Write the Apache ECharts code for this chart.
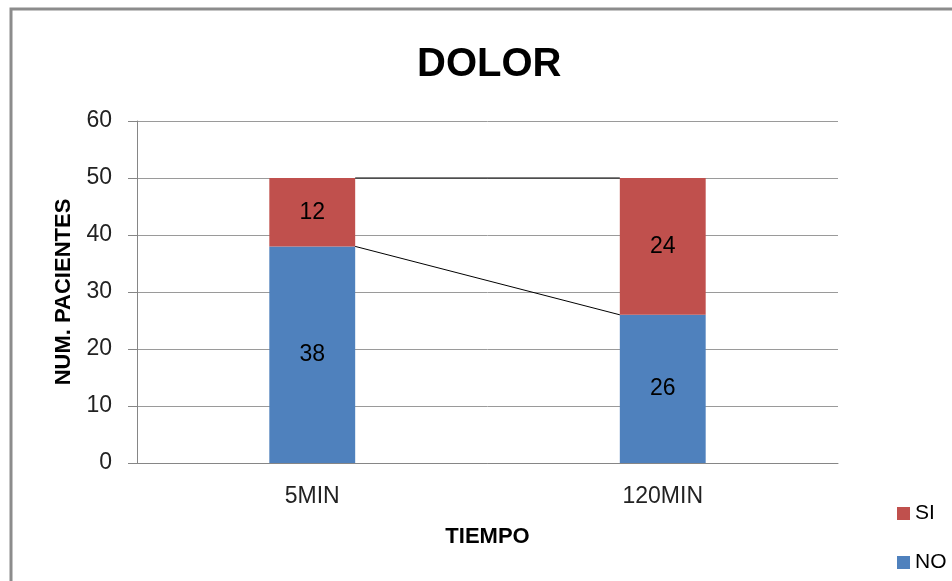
<!DOCTYPE html>
<html>
<head>
<meta charset="utf-8">
<script src="https://cdn.jsdelivr.net/npm/echarts@6/dist/echarts.min.js"></script>
<style>
html,body{margin:0;padding:0;background:#fff;}
#chart{width:952px;height:581px;}
</style>
</head>
<body>
<div id="chart"></div>
<script>
var categories = ['5MIN', '120MIN'];
var noValues = [38, 26];
var siValues = [12, 24];
var yTicks = [0, 10, 20, 30, 40, 50, 60];

var FONT = 'Liberation Sans';
var BAR_FRAC = 0.245;

// series lines connecting stacked segment tops between adjacent bars
function cumulative(a, b) { return a.map(function (v, i) { return v + (b ? b[i] : 0); }); }
var noTop = cumulative(noValues);
var siTop = cumulative(noValues, siValues);
var seriesLineData = [];
[noTop, siTop].forEach(function (tops) {
  for (var i = 0; i < tops.length - 1; i++) seriesLineData.push([i, tops[i], tops[i + 1]]);
});

var chart = echarts.init(document.getElementById('chart'));
chart.setOption({
  animation: false,
  backgroundColor: '#fff',
  graphic: [{
    type: 'rect', silent: true, z: 100,
    shape: { x: 11, y: 9, width: 1200, height: 1000 },
    style: { fill: 'none', stroke: '#8c8c8c', lineWidth: 3 }
  }],
  title: {
    text: 'DOLOR', left: 412, top: 40,
    textStyle: { fontFamily: FONT, fontSize: 40, fontWeight: 'bold', color: '#000' }
  },
  legend: {
    orient: 'vertical', left: 897, top: 503, padding: 0,
    itemWidth: 13, itemHeight: 13, itemGap: 28,
    data: ['SI', 'NO'],
    icon: 'rect',
    textStyle: { fontFamily: FONT, fontSize: 21, color: '#000' }
  },
  grid: { left: 137, right: 114, top: 121, bottom: 118 },
  xAxis: {
    type: 'category', data: categories,
    name: 'TIEMPO', nameLocation: 'middle', nameGap: 63,
    nameTextStyle: { fontFamily: FONT, fontSize: 22, fontWeight: 'bold', color: '#000' },
    axisLine: { lineStyle: { color: '#868686', width: 1 } },
    axisTick: { show: false },
    axisLabel: { fontFamily: FONT, fontSize: 23, color: '#222', margin: 22 }
  },
  yAxis: {
    type: 'value', min: 0, max: 60, interval: 10,
    name: 'NUM. PACIENTES', nameLocation: 'middle', nameGap: 62,
    nameTextStyle: { fontFamily: FONT, fontSize: 22, fontWeight: 'bold', color: '#000' },
    axisLine: { show: true, lineStyle: { color: '#868686', width: 1 } },
    axisTick: { show: true, length: 9, lineStyle: { color: '#868686' } },
    axisLabel: { fontFamily: FONT, fontSize: 23, color: '#222', margin: 25,
      formatter: function (v) { return yTicks.indexOf(v) >= 0 ? String(v) : ''; } },
    splitLine: { lineStyle: { color: '#9a9a9a', width: 1 } }
  },
  series: [
    {
      name: 'NO', type: 'bar', stack: 'total', barWidth: (BAR_FRAC * 100) + '%',
      data: noValues, itemStyle: { color: '#4F81BD' },
      label: { show: true, position: 'inside', fontFamily: FONT, fontSize: 23, color: '#000' }
    },
    {
      name: 'SI', type: 'bar', stack: 'total', barWidth: (BAR_FRAC * 100) + '%',
      data: siValues, itemStyle: { color: '#C0504D' },
      label: { show: true, position: 'inside', fontFamily: FONT, fontSize: 23, color: '#000' }
    },
    {
      name: 'seriesLines', type: 'custom', silent: true, z: 3,
      encode: { x: 0, y: 1 },
      data: seriesLineData,
      renderItem: function (params, api) {
        var i = api.value(0);
        var p1 = api.coord([i, api.value(1)]);
        var p2 = api.coord([i + 1, api.value(2)]);
        var half = api.size([1, 0])[0] * BAR_FRAC / 2;
        return {
          type: 'line',
          shape: { x1: p1[0] + half, y1: p1[1], x2: p2[0] - half, y2: p2[1] },
          style: { stroke: '#000', lineWidth: 1 }
        };
      }
    }
  ]
});
</script>
</body>
</html>
